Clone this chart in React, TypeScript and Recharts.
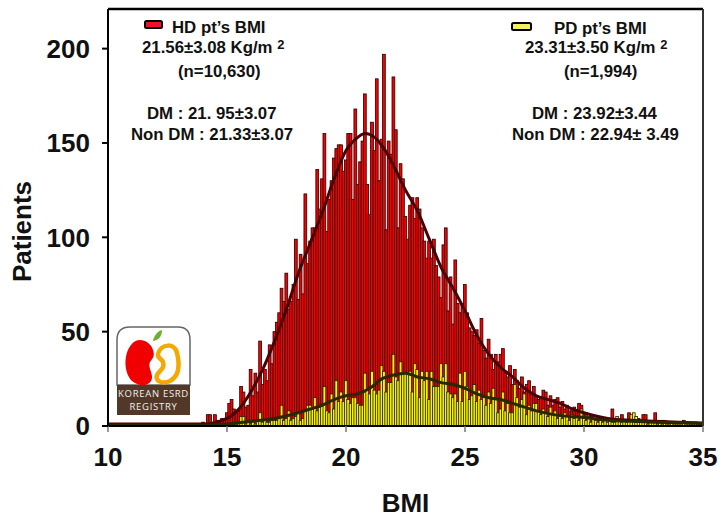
import React from "react";
import { ComposedChart, Bar, Line, XAxis, YAxis } from "recharts";

const xTicks = [10, 15, 20, 25, 30, 35];
const yTicks = [0, 50, 100, 150, 200];
const firstBin = 14.0;

// HD patients per 0.1 BMI bin, one row per whole BMI from 14 to 34
const hd14 = [2,1,6,6,2,6,3,2,4,3];
const hd15 = [7,12,14,9,8,8,21,18,10,11];
const hd16 = [30,16,28,18,45,22,30,24,43,33];
const hd17 = [50,55,60,73,66,81,62,66,75,99];
const hd18 = [67,91,70,123,86,98,105,105,136,115];
const hd19 = [131,155,103,120,130,142,147,149,149,135];
const hd20 = [141,155,155,120,168,128,140,151,176,128];
const hd21 = [112,161,146,184,130,152,197,104,151,144];
const hd22 = [185,157,105,139,131,111,99,117,121,110];
const hd23 = [121,115,105,98,89,98,89,99,85,79];
const hd24 = [68,96,105,61,79,54,88,65,60,65];
const hd25 = [75,60,52,50,48,51,44,57,40,36];
const hd26 = [46,38,30,38,34,38,41,28,26,32];
const hd27 = [22,30,24,20,26,18,22,24,17,21];
const hd28 = [16,14,15,19,18,11,16,11,14,15];
const hd29 = [10,13,9,11,8,8,10,8,12,11];
const hd30 = [6,7,4,5,3,4,5,3,4,3];
const hd31 = [2,4,9,3,2,3,6,2,3,7];
const hd32 = [5,3,2,4,2,6,6,2,3,2];
const hd33 = [7,2,2,3,2,2,2,2,1,2];
const hd34 = [2,1,3,1,2,1,1,2,1,1];

// PD patients per 0.1 BMI bin
const pd14 = [0,0,0,0,1,0,0,1,0,0];
const pd15 = [0,1,1,0,1,2,5,5,1,2];
const pd16 = [1,2,1,3,7,2,3,2,2,3];
const pd17 = [3,3,5,11,3,4,8,3,4,5];
const pd18 = [7,3,4,8,11,11,9,15,8,10];
const pd19 = [12,21,8,7,17,9,24,13,18,13];
const pd20 = [24,14,12,15,15,12,11,11,28,19];
const pd21 = [17,29,19,17,19,32,29,18,23,23];
const pd22 = [38,26,24,34,28,28,28,29,18,33];
const pd23 = [30,15,29,24,29,14,29,21,21,21];
const pd24 = [33,26,33,18,17,15,17,13,28,13];
const pd25 = [29,21,14,16,22,13,19,14,15,11];
const pd26 = [18,12,20,15,7,9,18,8,12,7];
const pd27 = [7,22,15,10,14,17,6,11,8,12];
const pd28 = [12,8,6,9,7,5,10,6,8,4];
const pd29 = [6,4,7,5,3,6,4,5,3,9];
const pd30 = [4,3,5,2,4,3,2,3,2,4];
const pd31 = [2,3,2,2,5,3,2,3,2,3];
const pd32 = [6,7,5,2,3,2,3,1,2,3];
const pd33 = [2,1,2,1,3,1,1,2,1,1];
const pd34 = [1,1,2,1,1,1,1,2,1,1];

// Smoothed curves: [BMI, patients]
const hdCurve = [[10,1],[12,1],[14,1],[15,4],[15.5,9],[16,18],[16.5,30],[17,45],[17.5,62],[18,81],[18.5,97],[19,113],[19.5,131],[20,146],[20.4,152],[20.8,155],[21.2,153],[21.6,147],[22,138],[22.5,125],[23,114],[23.5,99],[24,84],[24.5,73],[25,61],[25.5,48],[26,38],[26.5,31],[27,26],[27.5,20],[28,16],[28.5,14],[29,12],[29.5,9],[30,7],[31,4],[32,3],[33,2.5],[34,2],[35,1.5]];
const pdCurve = [[10,0.5],[12,0.5],[14,0.5],[15,1],[16,2.5],[17,4],[18,7],[18.5,9],[19,11],[19.5,14],[20,16],[20.5,17],[21,20],[21.5,25],[22,27],[22.5,28],[23,26],[23.5,25],[24,23],[24.5,22],[25,20],[25.5,17],[26,15],[26.5,14],[27,12],[27.5,10],[28,8],[29,5.5],[30,4.5],[31,3],[32,2.5],[33,2],[34,1.8],[35,1.5]];

const hdRows = [hd14,hd15,hd16,hd17,hd18,hd19,hd20,hd21,hd22,hd23,hd24,hd25,hd26,hd27,hd28,hd29,hd30,hd31,hd32,hd33,hd34].flat();
const pdRows = [pd14,pd15,pd16,pd17,pd18,pd19,pd20,pd21,pd22,pd23,pd24,pd25,pd26,pd27,pd28,pd29,pd30,pd31,pd32,pd33,pd34].flat();

const byTenth = new Map<number, any>();
const row = (x: number) => {
  const k = Math.round(x * 10);
  if (!byTenth.has(k)) byTenth.set(k, { bmi: k / 10 });
  return byTenth.get(k);
};
hdRows.forEach((v, i) => { row(firstBin + i / 10).hd = v; });
pdRows.forEach((v, i) => { row(firstBin + i / 10).pd = v; });
hdCurve.forEach(([x, v]) => { row(x).hdFit = v; });
pdCurve.forEach(([x, v]) => { row(x).pdFit = v; });
const table = [...byTenth.values()].sort((a, b) => a.bmi - b.bmi);

const FONT = "'Liberation Sans', Arial, sans-serif";

const WideBar = (p: any) =>
  p.height > 0 ? (
    <rect x={p.x + p.width / 2 - 1.4} y={p.y} width={2.8} height={p.height} fill={p.fill} stroke={p.stroke} strokeWidth={p.strokeWidth} />
  ) : null;

const Label = ({ x, y, size = 16.8, children }: any) => (
  <text x={x} y={y} fontFamily={FONT} fontWeight={700} fontSize={size} fill="#111">{children}</text>
);

const Notes = () => (
  <svg width={720} height={520} style={{ position: "absolute", left: 0, top: 0 }}>
    <rect x={145} y={21} width={17} height={7} rx={1.5} fill="#f0102c" stroke="#000" strokeWidth={2} />
    <Label x={172} y={33}>HD pt’s BMI</Label>
    <Label x={142} y={53}>21.56±3.08 Kg/m <tspan fontSize={13} dy={-4}>2</tspan></Label>
    <Label x={178} y={77}>(n=10,630)</Label>
    <Label x={147} y={119}>DM : 21. 95±3.07</Label>
    <Label x={131} y={140}>Non DM : 21.33±3.07</Label>

    <rect x={512} y={23} width={19} height={7} rx={1.5} fill="#f5f060" stroke="#000" strokeWidth={2} />
    <Label x={554} y={34}>PD pt’s BMI</Label>
    <Label x={525} y={53}>23.31±3.50 Kg/m <tspan fontSize={13} dy={-4}>2</tspan></Label>
    <Label x={564} y={77}>(n=1,994)</Label>
    <Label x={532} y={119}>DM : 23.92±3.44</Label>
    <Label x={512} y={140}>Non DM : 22.94± 3.49</Label>

    {/* registry logo */}
    <path d="M117 340 Q117 327 130 327 L178 327 Q190 327 190 340 L190 385 L117 385 Z" fill="#fff" stroke="#666" strokeWidth={1.5} />
    <rect x={117} y={385} width={73} height={30} fill="#523828" />
    <path d="M153 350 C150 340 137 336 131 345 C123 355 124 373 132 381 C140 388 153 386 152 376 C151 370 148 366 150 362 C153 358 155 356 153 350 Z" fill="#f00000" />
    <path d="M158 354 C161 343 175 343 177 353 C180 365 179 376 170 381 C161 385 155 380 157 375 C160 370 165 368 163 362 C161 358 157 358 158 354 Z" fill="#fff" stroke="#f5a800" strokeWidth={4.5} />
    <path d="M153 341 C154 335 158 331 162 330 C162 336 159 340 153 341 Z" fill="#6cb030" />
    <text x={153.5} y={397} textAnchor="middle" fontFamily="'Open Sans', sans-serif" fontSize={9.5} letterSpacing={0.7} fill="#f2efe8">KOREAN ESRD</text>
    <text x={153.5} y={410} textAnchor="middle" fontFamily="'Open Sans', sans-serif" fontSize={9.5} letterSpacing={0.7} fill="#f2efe8">REGISTRY</text>
  </svg>
);

export default function App() {
  const tick = { fontFamily: FONT, fontWeight: 700, fontSize: 26, fill: "#111" };
  const axisBlack = { stroke: "#000", strokeWidth: 2 };
  return (
    <div style={{ position: "absolute", left: 0, top: 0, width: 720, height: 520, background: "#fff" }}>
      <ComposedChart
        width={720}
        height={520}
        data={table}
        barSize={2}
        barGap={-2}
        margin={{ top: 8, right: 16, bottom: 0, left: 0 }}
      >
        <XAxis
          dataKey="bmi"
          type="number"
          domain={[10, 35]}
          ticks={xTicks}
          interval={0}
          height={94}
          tick={tick}
          tickSize={6}
          tickMargin={16}
          axisLine={axisBlack}
          tickLine={{ stroke: "#777", strokeWidth: 1.5 }}
          label={{ value: "BMI", position: "insideBottom", offset: 8, style: { ...tick, fontSize: 26 } }}
        />
        <XAxis xAxisId="top" orientation="top" type="number" domain={[10, 35]} height={1} tick={false} tickLine={false} axisLine={{ stroke: "#000", strokeWidth: 2.5 }} />
        <YAxis
          type="number"
          domain={[0, 221]}
          ticks={yTicks}
          interval={0}
          width={108}
          tick={tick}
          tickSize={6}
          tickMargin={12}
          axisLine={axisBlack}
          tickLine={axisBlack}
          label={{ value: "Patients", angle: -90, position: "insideLeft", offset: 22, dy: 14, style: { ...tick, fontSize: 26, textAnchor: "middle" } }}
        />
        <YAxis yAxisId="right" orientation="right" type="number" domain={[0, 221]} width={1} tick={false} tickLine={false} axisLine={{ stroke: "#333", strokeWidth: 2 }} />
        <Bar dataKey="hd" fill="#f80000" stroke="#200000" strokeWidth={0.8} shape={WideBar} isAnimationActive={false} />
        <Bar dataKey="pd" fill="#f8f400" stroke="#202000" strokeWidth={0.8} shape={WideBar} isAnimationActive={false} />
        <Line dataKey="hdFit" type="monotone" connectNulls dot={false} stroke="#4a0006" strokeWidth={3} isAnimationActive={false} />
        <Line dataKey="pdFit" type="monotone" connectNulls dot={false} stroke="#2a2800" strokeWidth={3} isAnimationActive={false} />
      </ComposedChart>
      <Notes />
    </div>
  );
}
